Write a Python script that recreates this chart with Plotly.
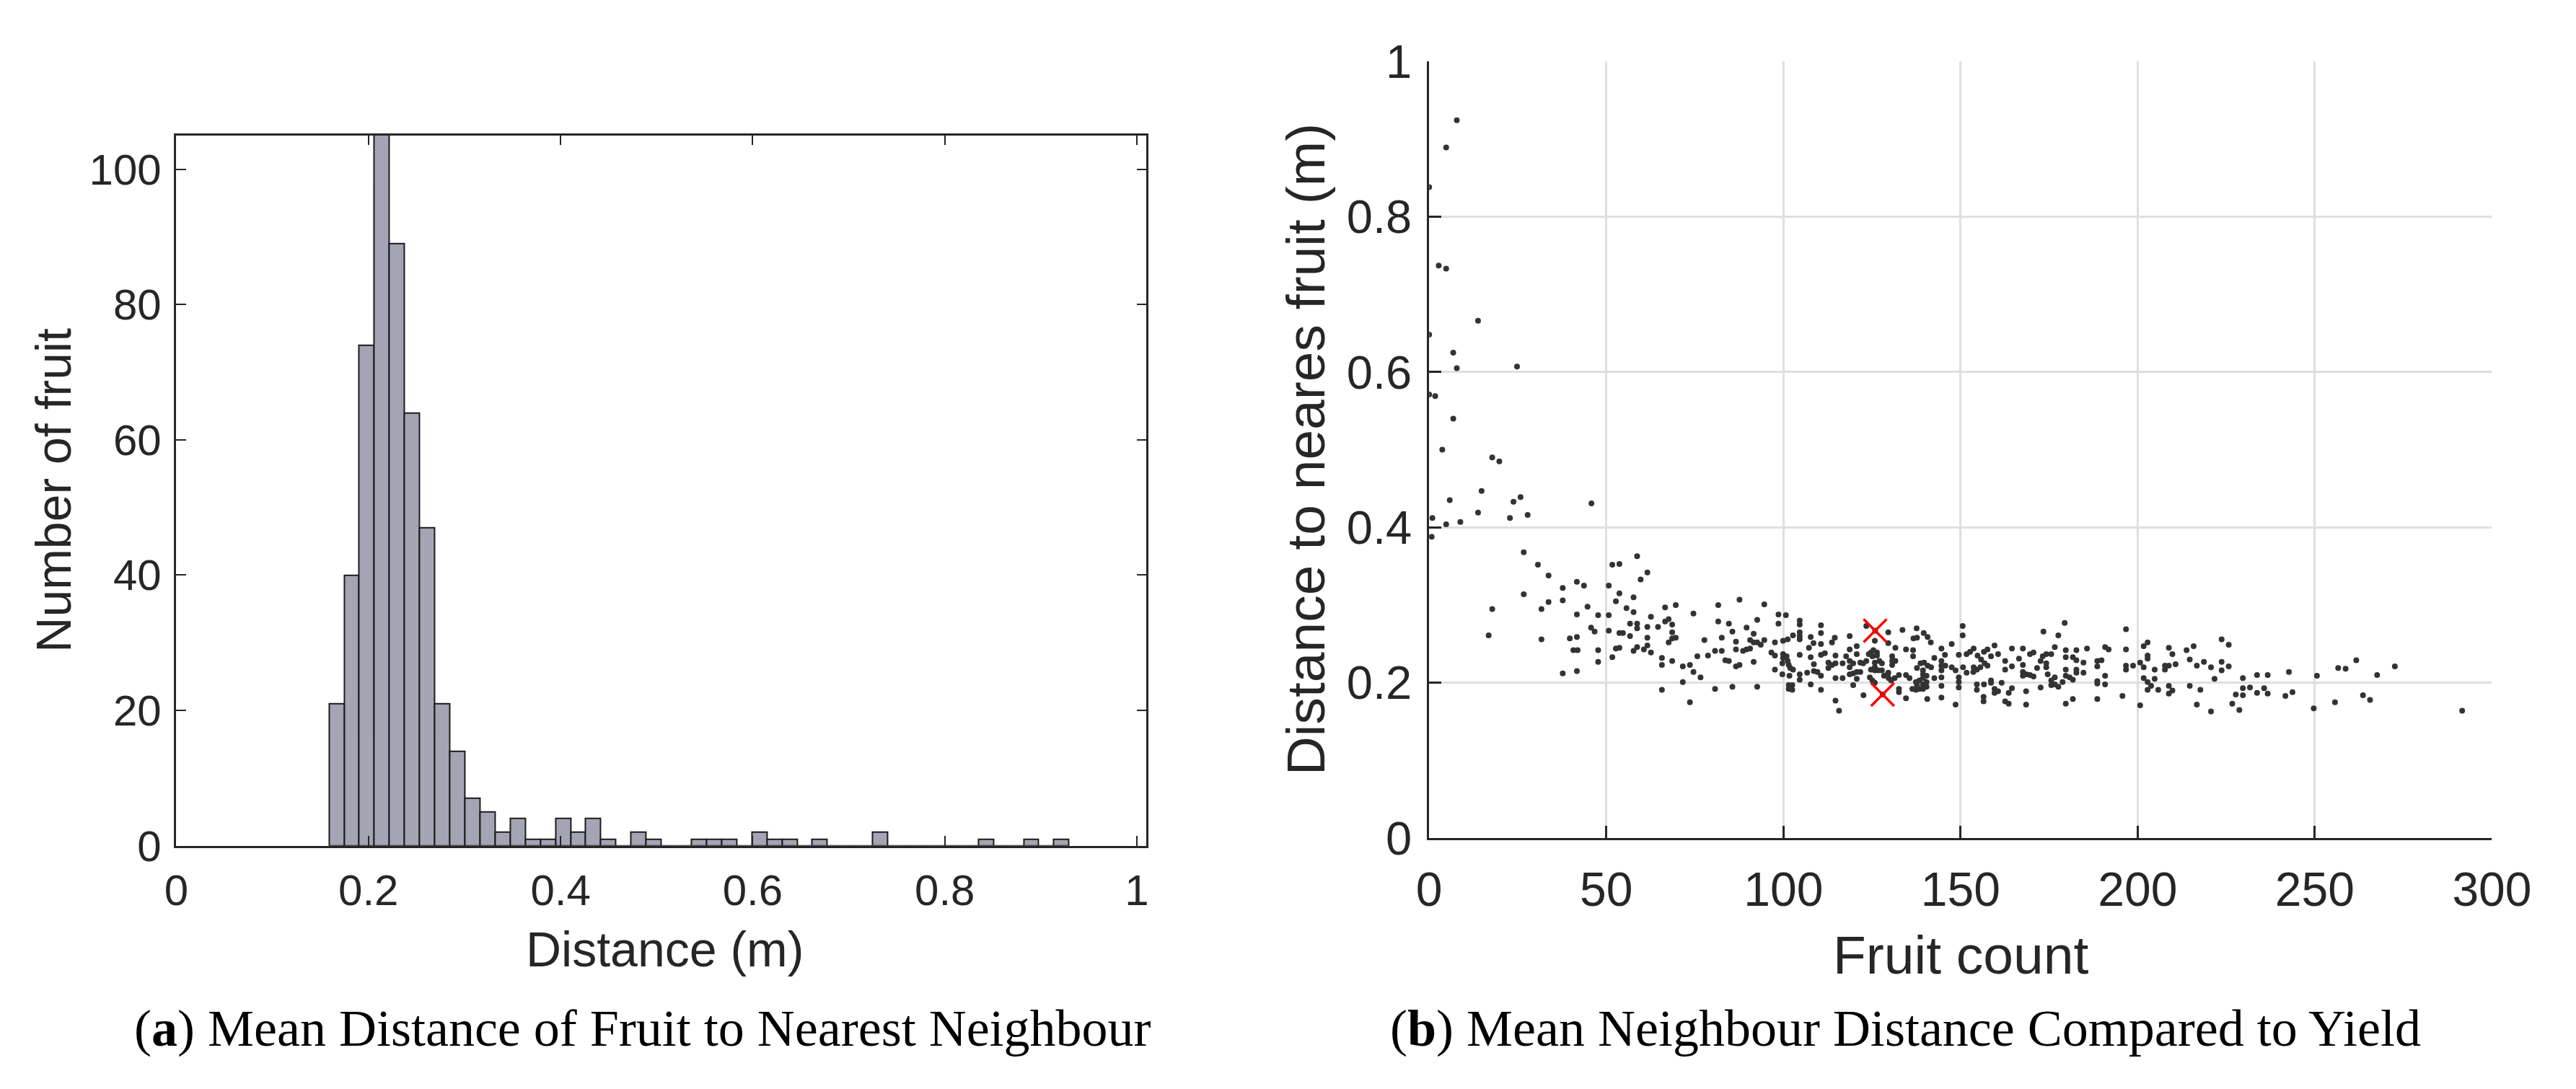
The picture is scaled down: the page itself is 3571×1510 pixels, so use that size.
import plotly.graph_objects as go

# ---------------- (a) histogram data ----------------
bin_start = 0.1589      # left edge of first non-empty bin (m)
bin_width = 0.01572     # bin width (m)
bin_counts = [21, 40, 74, 110, 89, 64, 47, 21, 14, 7, 5, 2, 4,
              1, 1, 4, 2, 4, 1, 0, 2, 1, 0, 0, 1, 1, 1, 0, 2, 1, 1, 0, 1,
              0, 0, 0, 2, 0, 0, 0, 0, 0, 0, 1, 0, 0, 1, 0, 1]
hist_xticks = [0, 0.2, 0.4, 0.6, 0.8, 1]
hist_xticklabels = ["0", "0.2", "0.4", "0.6", "0.8", "1"]
hist_yticks = [0, 20, 40, 60, 80, 100]

# ---------------- (b) scatter data: (fruit count, mean NN distance) ----------------
low_yield_points = [
    (7.8, 0.924), (4.8, 0.889), (0, 0.838), (2.7, 0.737), (4.8, 0.733), (13.8, 0.666),
    (0, 0.648), (6.8, 0.625), (7.8, 0.605), (24.8, 0.607), (0, 0.571), (1.7, 0.569),
    (6.8, 0.540), (3.7, 0.500), (17.8, 0.490), (19.8, 0.485), (14.8, 0.447), (5.8, 0.435),
    (23.8, 0.433), (25.8, 0.439), (45.8, 0.431), (13.8, 0.419), (22.8, 0.412), (27.8, 0.416),
    (0.9, 0.412), (4.8, 0.404), (8.8, 0.407), (0.7, 0.388), (17.8, 0.295), (16.8, 0.261),
    (26.7, 0.368), (30.7, 0.352), (33.7, 0.338), (37.7, 0.322), (41.7, 0.330), (43.7, 0.325),
    (26.7, 0.314), (33.7, 0.304), (37.7, 0.306), (31.7, 0.295), (31.7, 0.256),
]
mid_low_yield_points = [
    (50.7, 0.325), (51.7, 0.352), (53.7, 0.353), (58.7, 0.363), (61.6, 0.342), (59.7, 0.333),
    (53.7, 0.315), (52.7, 0.305), (57.7, 0.310), (44.7, 0.298), (41.7, 0.288), (47.7, 0.287),
    (50.7, 0.287), (55.7, 0.296), (57.7, 0.291), (45.7, 0.271), (46.7, 0.266), (50.7, 0.267),
    (53.7, 0.264), (54.7, 0.264), (56.7, 0.276), (58.7, 0.276), (58.7, 0.270), (56.7, 0.260),
    (61.6, 0.272), (62.6, 0.285), (64.6, 0.272), (61.6, 0.258), (39.7, 0.257), (41.7, 0.259),
    (40.7, 0.242), (41.9, 0.242), (47.7, 0.242), (52.7, 0.244), (53.7, 0.245), (58.7, 0.246),
    (57.7, 0.241), (60.6, 0.243), (61.6, 0.248), (62.6, 0.239), (51.7, 0.233), (47.7, 0.227),
    (37.7, 0.212), (41.7, 0.215), (65.7, 0.232), (65.7, 0.223), (68.6, 0.228), (66.6, 0.297),
    (69.6, 0.300), (66.6, 0.279), (67.6, 0.282), (68.6, 0.275), (68.6, 0.265), (69.6, 0.258),
    (68.6, 0.257), (67.6, 0.252), (65.7, 0.191), (71.6, 0.221), (73.6, 0.223), (74.6, 0.214),
    (76.6, 0.207), (71.6, 0.201), (73.6, 0.175), (75.7, 0.234), (74.6, 0.289), (77.7, 0.255),
    (78.7, 0.235), (80.7, 0.241), (82.6, 0.241), (81.6, 0.300), (81.6, 0.279), (82.6, 0.258),
    (84.6, 0.276), (85.6, 0.266), (86.6, 0.253), (86.6, 0.243), (83.6, 0.229), (84.6, 0.228),
    (86.6, 0.221), (87.6, 0.223), (80.7, 0.192), (85.6, 0.195), (87.6, 0.307), (89.6, 0.271),
    (88.6, 0.241), (89.6, 0.243), (90.6, 0.244), (90.6, 0.255), (91.6, 0.263), (91.6, 0.252),
    (92.6, 0.281), (92.6, 0.252), (93.6, 0.249), (94.6, 0.255), (94.6, 0.301), (91.6, 0.227),
    (92.6, 0.195), (96.6, 0.239), (97.6, 0.235), (97.6, 0.252), (98.6, 0.288), (98.6, 0.276),
    (97.6, 0.217),
]
mid_yield_points = [
    (100.7, 0.287), (104.6, 0.280), (104.6, 0.275), (110.6, 0.274), (110.6, 0.264), (104.6, 0.265),
    (104.6, 0.260), (104.6, 0.256), (102.7, 0.261), (101.2, 0.256), (99.9, 0.254), (107.7, 0.259),
    (110.6, 0.250), (108.5, 0.251), (107.2, 0.245), (114.5, 0.258), (113.7, 0.252), (118.7, 0.260),
    (123.4, 0.273), (125.9, 0.267), (129.6, 0.265), (125.8, 0.254), (129.6, 0.251), (131.6, 0.245),
    (133.6, 0.268), (137.6, 0.270), (139.6, 0.264), (140.7, 0.259), (141.6, 0.252), (136.7, 0.257),
    (137.7, 0.258), (134.6, 0.243), (136.6, 0.242), (136.6, 0.234), (144.6, 0.244), (147.5, 0.250),
    (150.6, 0.273), (150.6, 0.261), (142.6, 0.232), (145.6, 0.236), (144.6, 0.228), (144.6, 0.222),
    (144.6, 0.216), (144.6, 0.207), (144.6, 0.196), (144.6, 0.181), (145.7, 0.222), (149.5, 0.236),
    (147.5, 0.220), (148.6, 0.216), (149.5, 0.207), (149.5, 0.201), (149.5, 0.194), (148.6, 0.172),
    (150.7, 0.220), (151.7, 0.213), (151.7, 0.237), (152.7, 0.240), (153.7, 0.244), (154.8, 0.235),
    (155.8, 0.230), (156.8, 0.225), (157.6, 0.222), (153.7, 0.220), (153.6, 0.214), (154.6, 0.217),
    (155.6, 0.220), (156.6, 0.240), (157.6, 0.243), (158.6, 0.234), (159.6, 0.248), (160.6, 0.237),
    (154.6, 0.198), (154.6, 0.191), (156.6, 0.198), (156.5, 0.182), (156.5, 0.176), (158.6, 0.203),
    (158.6, 0.200), (159.6, 0.192), (160.6, 0.189), (159.6, 0.187), (161.6, 0.200), (162.6, 0.228),
    (162.6, 0.217), (164.5, 0.244), (164.5, 0.221), (164.5, 0.193), (163.6, 0.187), (162.6, 0.176),
    (163.6, 0.173), (166.5, 0.231), (167.6, 0.244), (167.6, 0.223), (167.6, 0.214), (167.6, 0.209),
    (168.6, 0.211), (169.6, 0.210), (170.6, 0.208), (168.5, 0.189), (168.5, 0.172), (169.6, 0.237),
    (170.6, 0.239), (171.6, 0.219), (172.6, 0.228), (173.2, 0.234), (174.2, 0.237), (175.6, 0.237),
    (172.6, 0.194), (173.4, 0.266), (174.2, 0.225), (174.2, 0.220), (174.6, 0.211), (175.6, 0.203),
    (176.6, 0.207), (176.6, 0.198), (177.6, 0.195), (175.6, 0.197), (176.6, 0.246), (177.6, 0.261),
    (179.4, 0.277),
    (99.9, 0.237), (100.9, 0.234), (99.9, 0.232), (99.7, 0.225), (101.2, 0.228), (101.5, 0.223),
    (101.9, 0.219), (102.7, 0.217), (99.7, 0.211), (101.7, 0.209), (104.6, 0.236), (104.6, 0.211),
    (104.6, 0.204), (101.5, 0.197), (101.5, 0.192), (102.5, 0.197), (102.5, 0.191), (107.7, 0.233),
    (108.6, 0.224), (106.7, 0.213), (108.6, 0.215), (109.6, 0.214), (110.6, 0.209), (110.6, 0.236),
    (111.7, 0.238), (107.7, 0.198), (110.6, 0.191), (114.7, 0.235), (112.7, 0.226), (112.7, 0.219),
    (113.7, 0.223), (114.7, 0.225), (114.7, 0.206), (114.7, 0.177), (115.7, 0.164), (116.7, 0.225),
    (117.7, 0.234), (118.7, 0.228), (119.7, 0.225), (118.7, 0.243), (116.7, 0.206), (118.7, 0.220),
    (118.7, 0.211), (119.7, 0.212), (120.7, 0.214), (121.7, 0.214), (120.7, 0.247), (120.7, 0.237),
    (119.7, 0.197), (120.7, 0.205), (121.7, 0.226), (122.5, 0.225), (123.4, 0.228), (122.6, 0.184),
    (124.1, 0.237), (124.7, 0.239), (125.4, 0.242), (126.4, 0.239), (125.1, 0.234), (126.4, 0.235),
    (127.1, 0.228), (127.8, 0.225), (125.8, 0.226), (125.8, 0.220), (124.7, 0.217), (125.8, 0.216),
    (126.8, 0.216), (127.8, 0.216), (124.4, 0.207), (125.1, 0.203), (125.8, 0.200), (128.4, 0.209),
    (129.4, 0.211), (129.7, 0.206), (130.4, 0.203), (131.4, 0.206), (132.6, 0.210), (130.7, 0.234),
    (130.7, 0.228), (131.6, 0.228), (130.7, 0.223), (129.6, 0.213), (132.6, 0.192), (132.6, 0.188),
    (134.6, 0.180), (134.6, 0.210), (135.6, 0.206), (128.0, 0.185), (137.7, 0.219), (138.7, 0.225),
    (139.7, 0.226), (140.7, 0.222), (141.7, 0.220), (139.4, 0.216), (139.4, 0.211), (140.4, 0.209),
    (139.4, 0.206), (137.4, 0.201), (138.4, 0.203), (137.7, 0.197), (138.4, 0.192), (137.4, 0.191),
    (139.4, 0.198), (140.4, 0.201), (139.4, 0.192), (140.4, 0.195), (136.4, 0.192), (140.6, 0.179),
    (142.6, 0.206),
]
high_yield_points = [
    (196.7, 0.269), (178.8, 0.201), (179.7, 0.242), (179.7, 0.233), (179.7, 0.217), (179.7, 0.209),
    (180.8, 0.207), (181.7, 0.204), (179.7, 0.173), (181.7, 0.179), (182.7, 0.242), (181.7, 0.233),
    (182.7, 0.229), (182.7, 0.217), (182.7, 0.213), (184.7, 0.226), (184.7, 0.213), (185.7, 0.244),
    (188.6, 0.228), (189.8, 0.229), (188.6, 0.221), (188.6, 0.202), (188.6, 0.199), (190.8, 0.209),
    (190.8, 0.198), (188.6, 0.179), (190.8, 0.246), (191.8, 0.243), (195.7, 0.183), (196.7, 0.243),
    (196.7, 0.222), (196.7, 0.217), (198.7, 0.222), (200.7, 0.226), (200.7, 0.171), (201.7, 0.247),
    (202.8, 0.252), (202.8, 0.235), (202.8, 0.231), (201.7, 0.220), (201.7, 0.206), (202.8, 0.201),
    (203.8, 0.196), (202.8, 0.191), (204.8, 0.217), (204.8, 0.205), (205.8, 0.191), (207.7, 0.222),
    (207.7, 0.217), (208.8, 0.222), (208.8, 0.245), (209.8, 0.237), (210.7, 0.224), (208.8, 0.196),
    (209.8, 0.190), (208.8, 0.186), (213.8, 0.242), (215.8, 0.247), (214.7, 0.230), (216.7, 0.222),
    (218.7, 0.227), (214.7, 0.196), (217.7, 0.191), (216.7, 0.172), (220.7, 0.220), (220.7, 0.163),
    (223.7, 0.256), (225.7, 0.249), (223.7, 0.227), (223.7, 0.216), (225.7, 0.221), (221.7, 0.205),
    (226.7, 0.173), (227.7, 0.185), (228.7, 0.165), (229.7, 0.206), (229.7, 0.193), (229.7, 0.184),
    (231.7, 0.194), (233.7, 0.210), (233.7, 0.187), (235.7, 0.193), (236.7, 0.210), (236.7, 0.186),
    (241.7, 0.183), (242.7, 0.214), (243.7, 0.188), (249.7, 0.167), (250.6, 0.209), (255.7, 0.175),
    (256.6, 0.219), (258.7, 0.218), (261.7, 0.229), (263.6, 0.184), (265.6, 0.178), (267.6, 0.210),
    (272.6, 0.221), (291.6, 0.164),
]
highlighted_points = [(125.9, 0.267), (128.0, 0.185)]

scatter_xticks = [0, 50, 100, 150, 200, 250, 300]
scatter_yticks = [0, 0.2, 0.4, 0.6, 0.8, 1]
scatter_yticklabels = ["0", "0.2", "0.4", "0.6", "0.8", "1"]

# ---------------- figure ----------------
W, H = 3571, 1510
AX = "#262626"
SANS = "Liberation Sans, Arial, Helvetica, sans-serif"
SERIF = "Liberation Serif, Times New Roman, serif"

def px_x(p):
    return p / W

def px_y(p):
    return 1 - p / H

centers = [bin_start + bin_width * (i + 0.5) for i in range(len(bin_counts))]

all_points = low_yield_points + mid_low_yield_points + mid_yield_points + high_yield_points

fig = go.Figure()
fig.add_trace(go.Bar(
    x=centers, y=bin_counts, width=bin_width,
    marker=dict(color="#a4a4b5", line=dict(color="#1c1c1c", width=2)),
    xaxis="x", yaxis="y", showlegend=False,
))
fig.add_trace(go.Scatter(
    x=[p[0] for p in all_points], y=[p[1] for p in all_points],
    mode="markers", marker=dict(size=8, color="#333333"),
    xaxis="x2", yaxis="y2", showlegend=False,
))
fig.add_trace(go.Scatter(
    x=[p[0] for p in highlighted_points], y=[p[1] for p in highlighted_points],
    mode="markers",
    marker=dict(symbol="x-thin", size=32, color="#ff0000", line=dict(color="#ff0000", width=3.5)),
    xaxis="x2", yaxis="y2", showlegend=False,
))

common_axis = dict(
    showline=True, linecolor=AX, ticks="inside", tickcolor=AX,
    zeroline=False, color=AX,
)

fig.update_layout(
    width=W, height=H,
    margin=dict(l=0, r=0, t=0, b=0),
    paper_bgcolor="white", plot_bgcolor="white",
    bargap=0,
    xaxis=dict(
        domain=[px_x(223), px_x(1596)], range=[0, 1.01],
        tickvals=hist_xticks, ticktext=hist_xticklabels,
        showgrid=False, mirror="ticks", linewidth=2.5, ticklen=14, tickwidth=2,
        tickfont=dict(family=SANS, size=60, color=AX), ticklabelstandoff=8,
        anchor="y", **common_axis,
    ),
    yaxis=dict(
        domain=[px_y(1186), px_y(151)], range=[0, 105],
        tickvals=hist_yticks,
        showgrid=False, mirror="ticks", linewidth=2.5, ticklen=14, tickwidth=2,
        tickfont=dict(family=SANS, size=60, color=AX), ticklabelstandoff=6,
        anchor="x", **common_axis,
    ),
    xaxis2=dict(
        domain=[px_x(1996), px_x(3500)], range=[0, 300],
        tickvals=scatter_xticks,
        showgrid=True, gridcolor="#dfdfdf", gridwidth=2.5,
        mirror=False, linewidth=3, ticklen=17, tickwidth=2.5,
        tickfont=dict(family=SANS, size=66, color=AX), ticklabelstandoff=12,
        anchor="y2", **common_axis,
    ),
    yaxis2=dict(
        domain=[px_y(1175), px_y(43)], range=[0, 1],
        tickvals=scatter_yticks, ticktext=scatter_yticklabels,
        showgrid=True, gridcolor="#dfdfdf", gridwidth=2.5,
        mirror=False, linewidth=3, ticklen=17, tickwidth=2.5,
        tickfont=dict(family=SANS, size=65, color=AX), ticklabelstandoff=8,
        anchor="x2", **common_axis,
    ),
)

annotations = [
    dict(text="Number of fruit", x=px_x(49), y=px_y(668), textangle=-90,
         font=dict(family=SANS, size=68, color=AX)),
    dict(text="Distance (m)", x=px_x(914), y=px_y(1337),
         font=dict(family=SANS, size=68, color=AX)),
    dict(text="Distance to neares fruit (m)", x=px_x(1821), y=px_y(609), textangle=-90,
         font=dict(family=SANS, size=75, color=AX)),
    dict(text="Fruit count", x=px_x(2748), y=px_y(1345),
         font=dict(family=SANS, size=75, color=AX)),
    dict(text="(<b>a</b>) Mean Distance of Fruit to Nearest Neighbour", x=px_x(883), y=px_y(1452),
         font=dict(family=SERIF, size=72, color="black")),
    dict(text="(<b>b</b>) Mean Neighbour Distance Compared to Yield", x=px_x(2670), y=px_y(1452),
         font=dict(family=SERIF, size=72, color="black")),
]
for a in annotations:
    a.update(xref="paper", yref="paper", xanchor="center", yanchor="middle", showarrow=False)
fig.update_layout(annotations=annotations)

fig.write_html("out.html")
